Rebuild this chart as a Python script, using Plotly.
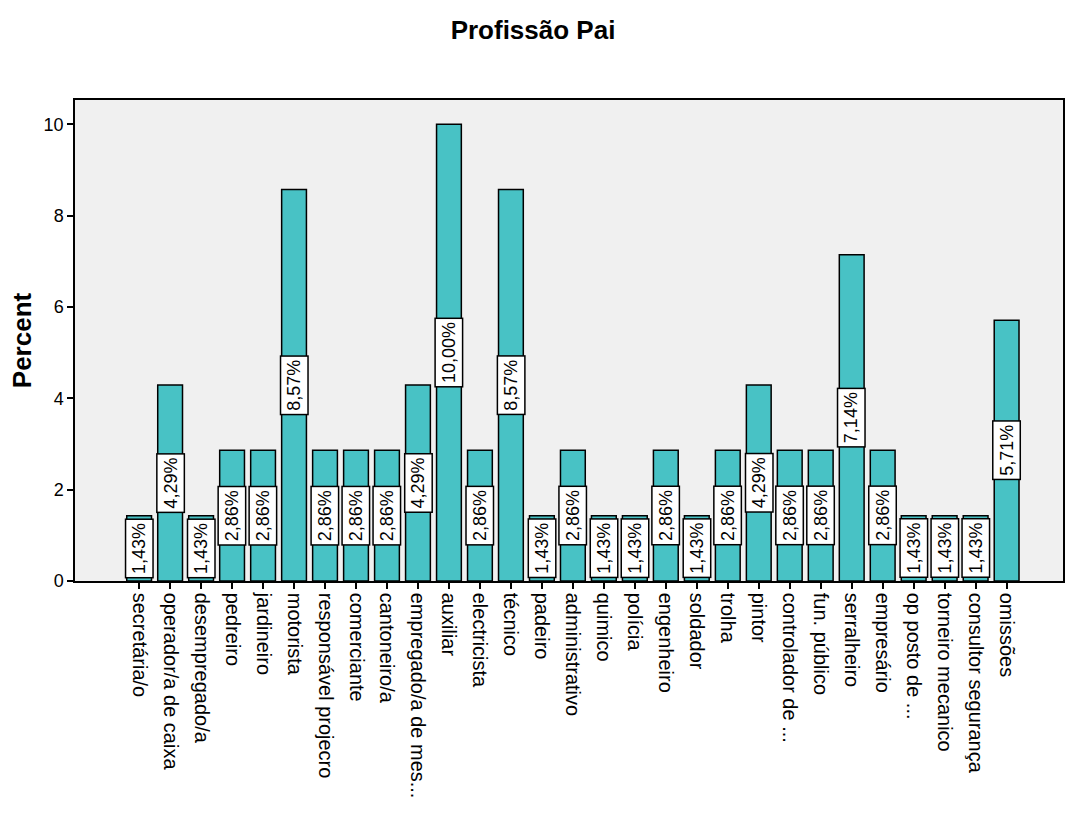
import plotly.graph_objects as go

categories = ["secretária/o", "operador/a de caixa", "desempregado/a", "pedreiro", "jardineiro",
              "motorista", "responsável projecro", "comerciante", "cantoneiro/a",
              "empregado/a de mes...", "auxiliar", "electricista", "técnico", "padeiro",
              "administrativo", "quimico", "polícia", "engenheiro", "soldador", "trolha",
              "pintor", "controlador de ...", "fun. público", "serralheiro", "empresário",
              "op posto de ...", "torneiro mecanico", "consultor segurança", "omissões"]
percent = [1.43, 4.29, 1.43, 2.86, 2.86, 8.57, 2.86, 2.86, 2.86, 4.29, 10.00, 2.86, 8.57, 1.43,
           2.86, 1.43, 1.43, 2.86, 1.43, 2.86, 4.29, 2.86, 2.86, 7.14, 2.86, 1.43, 1.43, 1.43, 5.71]
y_ticks = [0, 2, 4, 6, 8, 10]

idx = list(range(len(categories)))
FONT = "Arial, Liberation Sans, sans-serif"

fig = go.Figure()
fig.add_trace(go.Bar(
    x=idx, y=percent, width=0.8,
    marker=dict(color="#48C2C5", line=dict(color="black", width=1.5)),
    hoverinfo="skip",
))

for i, v in zip(idx, percent):
    fig.add_annotation(
        x=i, y=v / 2, xref="x", yref="y",
        text=f"{v:.2f}%".replace(".", ","),
        textangle=-90, showarrow=False,
        font=dict(family=FONT, size=18, color="black"),
        bgcolor="white", bordercolor="black", borderwidth=1.5, borderpad=3,
    )

fig.update_layout(
    width=1066, height=817,
    margin=dict(l=75, r=1, t=100, b=236),
    paper_bgcolor="white", plot_bgcolor="#F0F0F0",
    showlegend=False,
    title=dict(text="<b>Profissão Pai</b>", x=0.5, xanchor="center", y=0.963, yanchor="middle",
               font=dict(family=FONT, size=26, color="black")),
    xaxis=dict(
        range=[-2.07, 29.82], tickmode="array", tickvals=idx, ticktext=categories,
        tickangle=90, ticks="outside", ticklen=6, tickcolor="black", tickwidth=1.5,
        showline=True, linecolor="black", linewidth=1.5, mirror=True,
        showgrid=False, zeroline=False,
        tickfont=dict(family=FONT, size=20, color="black"),
    ),
    yaxis=dict(
        range=[0, 10.53], tickmode="array", tickvals=y_ticks,
        ticks="outside", ticklen=6, tickcolor="black", tickwidth=1.5,
        showline=True, linecolor="black", linewidth=1.5, mirror=True,
        showgrid=False, zeroline=False,
        tickfont=dict(family=FONT, size=18, color="black"),
        title=dict(text="<b>Percent</b>", standoff=5,
                   font=dict(family=FONT, size=26, color="black")),
    ),
)

fig.write_html("out.html", config={"displayModeBar": False},
               post_script="document.body.style.margin='0';document.body.style.overflow='hidden';")
